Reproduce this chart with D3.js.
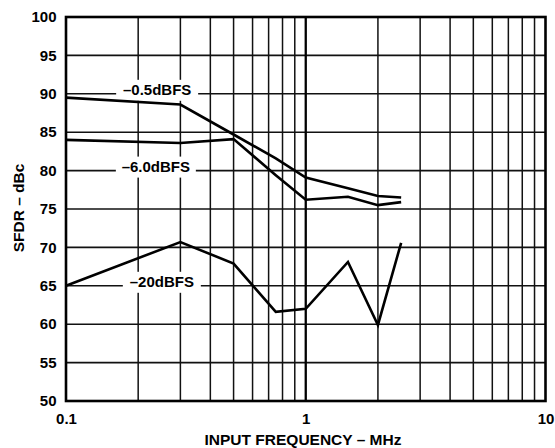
<!DOCTYPE html>
<html><head><meta charset="utf-8">
<script src="https://cdn.jsdelivr.net/npm/d3@7"></script>
<style>
body{margin:0;background:#fff}
text{font-family:"Liberation Sans",Arial,Helvetica,sans-serif;font-weight:bold;fill:#000}
</style>
</head><body>
<svg id="c" width="555" height="448"></svg>
<script>
// ---- data ----
const freqs = [0.1, 0.3, 0.5, 0.75, 1, 1.5, 2, 2.5];
const sfdrMinus05 = [89.5, 88.6, 84.7, 81.6, 79.1, 77.7, 76.7, 76.5];
const sfdrMinus6  = [84.0, 83.6, 84.1, 79.4, 76.2, 76.6, 75.5, 75.9];
const sfdrMinus20 = [65.0, 70.7, 67.9, 61.6, 62.0, 68.1, 59.9, 70.6];
const seriesNames = ["\u20130.5dBFS", "\u20136.0dBFS", "\u201320dBFS"];
const labelFreqs = [0.240, 0.237, 0.251];
const labelLevels = [90, 80, 65];
const yTicks = [50, 55, 60, 65, 70, 75, 80, 85, 90, 95, 100];
const xTickLabels = [0.1, 1, 10];
const xGridMinor = [0.2, 0.3, 0.4, 0.5, 0.6, 0.7, 0.8, 0.9, 2, 3, 4, 5, 6, 7, 8, 9];
const xGridMajor = [1];
const xTitle = "INPUT FREQUENCY \u2013 MHz";
const yTitle = "SFDR \u2013 dBc";

// ---- layout ----
const m = {l: 66, t: 17, r: 9.5, b: 47};
const W = 555 - m.l - m.r, H = 448 - m.t - m.b;
const FS = 15;

const svg = d3.select("#c");
const g = svg.append("g").attr("transform", `translate(${m.l},${m.t})`);
const x = d3.scaleLog().domain([0.1, 10]).range([0, W]);
const y = d3.scaleLinear().domain([50, 100]).range([H, 0]);

// grid
const grid = g.append("g");
grid.selectAll(".hg").data(yTicks).join("line")
  .attr("x1", 0).attr("x2", W).attr("y1", d => y(d)).attr("y2", d => y(d))
  .attr("stroke", "#111").attr("stroke-width", 1.6);
grid.selectAll(".vg").data(xGridMinor).join("line")
  .attr("y1", 0).attr("y2", H).attr("x1", d => x(d)).attr("x2", d => x(d))
  .attr("stroke", "#111").attr("stroke-width", 1.5);
grid.selectAll(".vM").data(xGridMajor).join("line")
  .attr("y1", 0).attr("y2", H).attr("x1", d => x(d)).attr("x2", d => x(d))
  .attr("stroke", "#000").attr("stroke-width", 2.3);

// labels with white boxes
const boxW = [82, 80, 78];
const lab = g.append("g");
seriesNames.forEach((name, i) => {
  const cx = x(labelFreqs[i]), cy = y(labelLevels[i]);
  lab.append("rect").attr("x", cx - boxW[i]/2).attr("y", cy - 14).attr("width", boxW[i]).attr("height", 21).attr("fill", "#fff");
  lab.append("text").attr("x", cx).attr("y", cy + 1)
    .attr("text-anchor", "middle").attr("font-size", FS).text(name);
});

// data lines
const line = d3.line().x((d, i) => x(freqs[i])).y(d => y(d));
[sfdrMinus05, sfdrMinus6, sfdrMinus20].forEach(s => {
  g.append("path").datum(s).attr("d", line).attr("fill", "none")
    .attr("stroke", "#000").attr("stroke-width", 2.6).attr("stroke-linejoin", "miter");
});

// frame
g.append("rect").attr("x", 0).attr("y", 0).attr("width", W).attr("height", H)
  .attr("fill", "none").attr("stroke", "#000").attr("stroke-width", 2.6);

// axes
const ya = g.append("g").call(d3.axisLeft(y).tickValues(yTicks).tickSize(0).tickFormat(d3.format("d")));
ya.select(".domain").remove();
ya.selectAll("text").attr("x", -9.5).attr("dy", null).attr("y", 4.7).attr("font-size", FS)
  .attr("font-family", null).attr("text-anchor", "end");

const xa = g.append("g").attr("transform", `translate(0,${H})`)
  .call(d3.axisBottom(x).tickValues(xTickLabels).tickSize(0).tickFormat(d => String(d)));
xa.select(".domain").remove();
xa.selectAll("text").attr("y", 23).attr("dy", null).attr("font-size", FS)
  .attr("font-family", null).attr("text-anchor", "middle");

// titles
svg.append("text").attr("x", 303).attr("y", 445)
  .attr("text-anchor", "middle").attr("font-size", 15.5).text(xTitle);
svg.append("text").attr("transform", `translate(24,${m.t + H/2 - 1}) rotate(-90)`)
  .attr("text-anchor", "middle").attr("font-size", 15.5).text(yTitle);
</script>
</body></html>
